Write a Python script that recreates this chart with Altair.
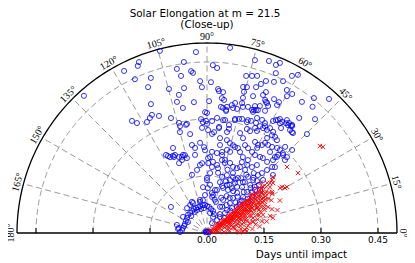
import altair as alt
import pandas as pd

TITLE_LINES = ["Solar Elongation at m = 21.5", "(Close-up)"]
RADIAL_LABEL = "Days until impact"
ANGLE_TICKS = list(range(0, 181, 15))
RADIAL_TICKS = [0.15, 0.30, 0.45]
RADIAL_LABEL_TICKS = [0.0, 0.15, 0.30, 0.45]
R_MAX = 0.5

# (solar elongation in degrees, days until impact)
BLUE_OUTER = [
    (104.5, 0.495), (93.5, 0.477), (82.9, 0.491), (111.7, 0.484), (112.5, 0.476),
    (117.1, 0.479), (115.1, 0.447), (109.9, 0.434), (97.7, 0.454), (100.4, 0.439),
    (95.6, 0.428), (95.0, 0.423), (88.0, 0.442), (86.5, 0.435), (99.4, 0.419),
    (92.6, 0.400), (88.5, 0.397), (92.0, 0.384), (112.0, 0.414), (104.8, 0.392),
    (99.0, 0.386), (101.5, 0.371), (113.5, 0.370), (131.9, 0.485), (102.9, 0.354),
    (95.7, 0.346), (89.1, 0.347), (85.6, 0.380), (85.2, 0.375), (83.5, 0.373),
    (83.7, 0.357), (82.7, 0.353), (81.0, 0.336), (83.7, 0.334), (81.1, 0.325),
    (79.0, 0.343), (77.8, 0.350), (76.4, 0.336), (90.0, 0.316), (93.0, 0.300),
    (92.1, 0.292), (90.0, 0.287), (87.4, 0.295), (123.8, 0.355), (122.5, 0.343),
    (115.0, 0.343), (116.4, 0.338), (112.3, 0.333), (107.4, 0.317), (104.2, 0.290),
    (100.4, 0.292), (76.0, 0.426), (74.0, 0.430), (72.3, 0.434), (74.7, 0.398),
    (75.3, 0.384), (74.9, 0.354), (69.1, 0.347), (69.3, 0.357), (72.0, 0.349),
    (75.1, 0.368), (68.8, 0.429), (66.1, 0.435), (63.4, 0.447), (70.2, 0.481),
    (66.8, 0.487), (67.3, 0.402), (67.9, 0.392), (65.2, 0.377), (64.3, 0.371),
    (63.4, 0.394), (61.2, 0.393), (57.4, 0.356), (55.9, 0.353), (54.7, 0.364),
    (53.3, 0.361), (51.9, 0.358), (59.5, 0.342), (58.6, 0.348), (61.5, 0.320),
    (59.8, 0.314), (58.5, 0.429), (54.1, 0.426), (46.5, 0.413), (61.6, 0.470),
    (60.1, 0.480), (67.7, 0.478), (66.7, 0.458), (74.5, 0.472), (60.8, 0.431),
    (59.7, 0.417), (61.3, 0.384), (51.6, 0.453), (47.7, 0.477), (50.1, 0.433),
    (51.3, 0.388),
]
BLUE_UPPER = [
    (92.7, 0.277), (83.5, 0.281), (78.5, 0.290), (76.2, 0.309), (74.3, 0.312),
    (72.9, 0.314), (70.2, 0.310), (66.0, 0.317), (63.6, 0.314), (51.5, 0.360),
    (54.3, 0.356), (54.8, 0.338), (68.3, 0.348), (69.9, 0.345), (67.4, 0.362),
    (71.4, 0.380), (70.1, 0.417), (71.4, 0.405), (76.1, 0.396), (66.4, 0.382),
    (65.8, 0.378), (118.4, 0.332), (104.3, 0.299), (100.9, 0.335), (90.9, 0.318),
    (82.7, 0.332), (81.2, 0.328), (78.2, 0.336), (74.1, 0.345), (69.2, 0.341),
    (67.5, 0.350), (101.0, 0.290), (90.5, 0.295), (85.0, 0.304), (81.9, 0.300),
    (80.9, 0.301), (76.1, 0.306), (70.1, 0.316), (68.6, 0.317), (66.5, 0.330),
    (64.6, 0.356), (57.9, 0.351), (56.4, 0.347), (53.1, 0.355), (49.9, 0.347),
    (51.8, 0.362), (64.0, 0.331), (62.2, 0.327), (61.9, 0.313), (59.0, 0.322),
    (56.8, 0.318), (56.4, 0.309), (54.7, 0.310), (53.0, 0.306), (44.7, 0.370),
    (44.3, 0.313), (51.1, 0.348), (49.3, 0.347), (47.8, 0.306), (105.0, 0.275),
    (99.7, 0.264),
]
BLUE_MIDDLE = [
    (111.8, 0.241), (116.9, 0.227), (113.5, 0.218), (110.2, 0.213), (89.4, 0.271),
    (87.1, 0.261), (86.0, 0.266), (83.5, 0.278), (78.8, 0.271), (78.1, 0.280),
    (82.2, 0.252), (71.7, 0.277), (69.2, 0.267), (69.0, 0.293), (67.1, 0.291),
    (65.4, 0.304), (63.9, 0.299), (99.7, 0.235), (92.0, 0.226), (98.7, 0.208),
    (108.2, 0.211), (86.5, 0.214), (82.9, 0.212), (79.5, 0.217), (76.5, 0.225),
    (74.1, 0.222), (73.5, 0.241), (72.0, 0.238), (70.0, 0.238), (67.8, 0.230),
    (66.6, 0.252), (64.2, 0.248), (60.9, 0.244), (62.2, 0.271), (59.9, 0.268),
    (59.5, 0.260), (58.4, 0.241), (55.1, 0.244), (64.7, 0.221), (60.7, 0.220),
    (89.2, 0.197), (85.2, 0.188), (81.6, 0.181), (78.4, 0.196), (75.6, 0.190),
    (71.8, 0.194), (68.5, 0.187), (59.5, 0.208), (55.7, 0.210), (53.7, 0.222),
    (65.2, 0.188), (63.4, 0.194), (57.7, 0.296), (57.2, 0.282), (58.0, 0.273),
    (55.3, 0.282), (52.9, 0.284), (52.1, 0.270), (50.5, 0.290), (48.7, 0.291),
    (48.2, 0.268), (47.7, 0.278), (45.7, 0.287), (43.1, 0.281), (53.3, 0.246),
    (49.8, 0.245), (45.4, 0.244), (44.1, 0.249), (46.5, 0.290), (43.5, 0.290),
    (47.4, 0.272), (47.9, 0.259), (46.4, 0.229), (47.5, 0.214), (43.4, 0.203),
    (41.3, 0.231), (94.4, 0.238), (91.4, 0.218), (98.0, 0.226), (81.6, 0.234),
    (77.9, 0.250), (75.7, 0.244), (63.8, 0.208), (58.9, 0.194), (117.7, 0.232),
    (113.8, 0.222), (111.8, 0.198), (105.8, 0.213), (105.0, 0.204), (108.9, 0.203),
    (107.1, 0.215), (112.3, 0.222), (116.0, 0.222), (87.7, 0.200), (79.1, 0.209),
    (76.1, 0.198), (48.7, 0.203), (50.0, 0.190), (52.0, 0.200), (56.0, 0.185),
]
BLUE_INNER = [
    (80.4, 0.173), (79.6, 0.161), (75.0, 0.153), (75.7, 0.138), (71.0, 0.161),
    (66.5, 0.152), (66.6, 0.172), (60.8, 0.151), (60.6, 0.166), (52.7, 0.152),
    (53.3, 0.167), (53.8, 0.183), (48.1, 0.170), (49.0, 0.185), (41.9, 0.170),
    (42.7, 0.186), (45.7, 0.151), (45.0, 0.134), (43.2, 0.119), (53.1, 0.132),
    (53.4, 0.115), (52.5, 0.099), (64.0, 0.126), (70.4, 0.126), (76.9, 0.116),
    (81.0, 0.101), (86.4, 0.127), (90.0, 0.139), (95.0, 0.121), (93.0, 0.100),
    (102.0, 0.089), (64.1, 0.097), (63.4, 0.077), (45.0, 0.093), (40.9, 0.104),
    (37.1, 0.135), (38.7, 0.152), (37.2, 0.165), (39.0, 0.180), (52.0, 0.043),
    (51.0, 0.054), (48.0, 0.071), (69.0, 0.045), (81.0, 0.053), (49.0, 0.080),
    (63.0, 0.029), (82.0, 0.096), (83.0, 0.106), (89.0, 0.118), (79.5, 0.115),
    (61.0, 0.135), (67.4, 0.137), (56.9, 0.145), (54.8, 0.164), (65.1, 0.162),
    (87.0, 0.158), (90.0, 0.145), (85.7, 0.174), (89.0, 0.184), (95.9, 0.180),
    (104.5, 0.158), (99.0, 0.168), (94.0, 0.184), (42.0, 0.060), (44.0, 0.085),
    (41.0, 0.115), (43.0, 0.125), (40.0, 0.140), (42.0, 0.160), (44.0, 0.175),
    (46.0, 0.190), (47.0, 0.110), (50.0, 0.125), (48.0, 0.145), (46.0, 0.165),
    (55.0, 0.090), (57.0, 0.110), (58.0, 0.130), (56.0, 0.060), (60.0, 0.080),
    (62.0, 0.110), (58.0, 0.170), (62.0, 0.160), (65.0, 0.140), (70.0, 0.145),
    (72.0, 0.175), (68.0, 0.100), (74.0, 0.085), (77.0, 0.090), (72.0, 0.130),
    (60.0, 0.004), (120.0, 0.005), (30.0, 0.006), (150.0, 0.004), (90.0, 0.003),
    (10.0, 0.005),
]
BLUE_ARM = [
    (178.0, 0.071), (173.0, 0.066), (172.0, 0.077), (165.0, 0.082), (168.0, 0.065),
    (158.0, 0.063), (150.0, 0.064), (143.0, 0.066), (136.5, 0.069), (130.0, 0.069),
    (124.0, 0.070), (118.4, 0.072), (113.7, 0.072), (109.0, 0.072), (104.5, 0.073),
    (98.0, 0.074), (94.0, 0.074), (90.0, 0.071), (85.6, 0.069), (80.5, 0.064),
    (74.7, 0.060), (70.0, 0.053), (144.2, 0.117), (115.8, 0.091), (102.7, 0.084),
    (150.0, 0.058), (163.0, 0.063), (133.0, 0.061), (120.0, 0.064), (113.0, 0.066),
    (104.0, 0.065), (97.0, 0.066), (146.0, 0.076), (121.0, 0.086), (115.0, 0.087),
    (128.7, 0.084), (97.0, 0.087), (170.0, 0.075),
]
RED_CORE = [
    (30, 0.012), (20, 0.015), (38, 0.018), (10, 0.020), (25, 0.022), (35, 0.025),
    (15, 0.028), (5, 0.030), (30, 0.032), (40, 0.035), (22, 0.036), (12, 0.040),
    (33, 0.040), (28, 0.045), (3, 0.045), (18, 0.048), (37, 0.050), (25, 0.052),
    (31, 0.055), (8, 0.055), (14, 0.060), (35, 0.060), (22, 0.062), (28, 0.065),
    (38, 0.068), (18, 0.070), (32, 0.070), (11, 0.072), (26, 0.075), (36, 0.076),
    (4, 0.078), (21, 0.080), (30, 0.080), (15, 0.080), (34, 0.082), (38, 0.085),
    (24, 0.085), (28, 0.088), (19, 0.090), (12, 0.090), (32, 0.092), (36, 0.095),
    (26, 0.095), (2, 0.093), (22, 0.098), (30, 0.100), (39, 0.100), (16, 0.100),
    (33, 0.105), (27, 0.105), (8, 0.105), (35, 0.108), (20, 0.110), (24, 0.112),
    (31, 0.113), (38, 0.115), (13, 0.115), (28, 0.118), (34, 0.120), (22, 0.120),
    (5, 0.120), (30, 0.122), (37, 0.125), (26, 0.125), (18, 0.127), (33, 0.130),
    (40, 0.130), (23, 0.132), (10, 0.130), (29, 0.135), (36, 0.137), (15, 0.138),
    (20, 0.140), (32, 0.140), (39, 0.142), (26, 0.145), (34, 0.148), (12, 0.148),
    (24, 0.150), (37, 0.152), (30, 0.155), (18, 0.155), (41, 0.157), (28, 0.160),
    (35, 0.163), (22, 0.163), (39, 0.167), (32, 0.170), (26, 0.170), (15, 0.172),
    (42, 0.175), (30, 0.178), (37, 0.180), (20, 0.182), (34, 0.186), (40, 0.190),
    (27, 0.190), (43, 0.195), (31, 0.200), (36, 0.205), (24, 0.210),
]
RED_FILL = [
    (27, 0.030), (33, 0.058), (24, 0.068), (29, 0.072), (34, 0.088), (37, 0.097),
    (21, 0.104), (29, 0.110), (36, 0.118), (32, 0.127), (27, 0.130), (38, 0.135),
    (35, 0.143), (30, 0.147), (22, 0.152), (33, 0.158), (38, 0.160), (26, 0.158),
    (31, 0.165), (36, 0.172), (29, 0.185), (17, 0.110), (14, 0.095), (9, 0.075),
    (6, 0.060), (3, 0.105), (1, 0.085), (7, 0.140), (11, 0.160), (18, 0.195),
    (13, 0.178), (23, 0.175), (39, 0.148), (40, 0.120), (41, 0.105), (39, 0.072),
    (36, 0.045), (32, 0.038), (26, 0.042), (19, 0.055), (16, 0.025), (45, 0.005),
]
RED_DENSE = [
    (34, 0.035), (29, 0.040), (37, 0.042), (31, 0.048), (35, 0.052), (27, 0.058),
    (38, 0.058), (30, 0.062), (34, 0.066), (26, 0.070), (36, 0.070), (31, 0.075),
    (39, 0.078), (28, 0.080), (33, 0.078), (35, 0.086), (30, 0.090), (38, 0.090),
    (25, 0.092), (32, 0.097), (34, 0.100), (28, 0.100), (37, 0.104), (31, 0.106),
    (25, 0.108), (36, 0.112), (33, 0.115), (39, 0.118), (27, 0.120), (32, 0.120),
    (35, 0.125), (29, 0.128), (38, 0.128), (34, 0.133), (31, 0.136), (26, 0.138),
    (37, 0.140), (33, 0.145), (28, 0.150), (40, 0.152), (35, 0.155), (31, 0.158),
    (38, 0.165), (34, 0.168), (29, 0.172), (36, 0.177), (32, 0.182), (39, 0.184),
    (35, 0.190), (33, 0.195), (38, 0.198), (21, 0.125), (19, 0.145), (24, 0.165),
    (17, 0.085), (23, 0.095), (20, 0.065), (14, 0.125), (10, 0.110), (7, 0.090),
]
RED_OUTLIERS = [
    (37.6, 0.375), (36.6, 0.380), (33.4, 0.287), (29.9, 0.243), (31.5, 0.232),
    (31.6, 0.226), (40.3, 0.228), (39.2, 0.221), (32.2, 0.202), (26.6, 0.147),
    (4.5, 0.100), (13.4, 0.124), (13.0, 0.070), (39.5, 0.273), (39.4, 0.191),
    (39.8, 0.206), (38.4, 0.212), (37.1, 0.218), (36.0, 0.179), (32.0, 0.174),
    (29.4, 0.166), (39.0, 0.180), (30.0, 0.237),
]

blue = pd.DataFrame(BLUE_OUTER + BLUE_UPPER + BLUE_MIDDLE + BLUE_INNER + BLUE_ARM,
                    columns=["angle", "days"])
red = pd.DataFrame(RED_CORE + RED_FILL + RED_DENSE + RED_OUTLIERS,
                   columns=["angle", "days"])

# ---- layout (pixels) ----
W, H = 399, 255
CX, CY = 199.0, 225.0
PX_PER_DAY = 380.0
xs = alt.Scale(domain=[-CX / PX_PER_DAY, (W - CX) / PX_PER_DAY], nice=False, zero=False)
ys = alt.Scale(domain=[-(H - CY) / PX_PER_DAY, CY / PX_PER_DAY], nice=False, zero=False)


def xenc(f):
    return alt.X(f"{f}:Q", scale=xs, axis=None)


def yenc(f):
    return alt.Y(f"{f}:Q", scale=ys, axis=None)


def px(rfield, afield):
    return f"datum.{rfield} * cos(datum.{afield} * PI / 180)"


def py(rfield, afield):
    return f"datum.{rfield} * sin(datum.{afield} * PI / 180)"


GRID = "#808080"
DASH = [6, 3.5]
TICK_LEN = 5 / PX_PER_DAY
LABEL_R = 196 / PX_PER_DAY

arc_df = pd.DataFrame([{"R": R, "a": a} for R in RADIAL_TICKS for a in range(0, 181)])
circles = alt.Chart(arc_df).transform_calculate(
    x=px("R", "a"), y=py("R", "a")
).mark_line(color=GRID, strokeWidth=0.8, strokeDash=DASH).encode(
    x=xenc("x"), y=yenc("y"), detail="R:N", order="a:Q"
)

outer_df = pd.DataFrame({"R": R_MAX, "a": list(range(0, 181))})
outer = alt.Chart(outer_df).transform_calculate(
    x=px("R", "a"), y=py("R", "a")
).mark_line(color="black", strokeWidth=1.3).encode(
    x=xenc("x"), y=yenc("y"), order="a:Q"
)

spoke_df = pd.DataFrame({"a": ANGLE_TICKS[1:-1], "R": R_MAX})
spokes = alt.Chart(spoke_df).transform_calculate(
    x0="0", y0="0", x1=px("R", "a"), y1=py("R", "a")
).mark_rule(color=GRID, strokeWidth=0.8, strokeDash=DASH).encode(
    x=xenc("x0"), y=yenc("y0"), x2=alt.X2("x1"), y2=alt.Y2("y1")
)

base_df = pd.DataFrame({"x0": [-R_MAX], "x1": [R_MAX]})
baseline = alt.Chart(base_df).transform_calculate(y0="0").mark_rule(
    color="black", strokeWidth=1.5
).encode(x=xenc("x0"), x2=alt.X2("x1"), y=yenc("y0"))

tick_df = pd.DataFrame({"t": [-t for t in RADIAL_TICKS] + RADIAL_TICKS})
ticks = alt.Chart(tick_df).transform_calculate(y0="0", y1=str(TICK_LEN)).mark_rule(
    color="black", strokeWidth=1
).encode(x=xenc("t"), y=yenc("y0"), y2=alt.Y2("y1"))

tlab_df = pd.DataFrame({"t": RADIAL_LABEL_TICKS})
tick_labels = alt.Chart(tlab_df).transform_calculate(y0="0").mark_text(
    font="DejaVu Sans", fontSize=9, align="center", baseline="alphabetic", dy=10, color="black"
).encode(x=xenc("t"), y=yenc("y0"), text=alt.Text("t:Q", format=".2f"))

alab_df = pd.DataFrame({"a": ANGLE_TICKS, "label": [f"{a}°" for a in ANGLE_TICKS], "R": LABEL_R})
angle_labels = alt.Chart(alab_df).transform_calculate(
    x=px("R", "a"), y=py("R", "a"), rot="(450 - datum.a) % 360"
).mark_text(font="Liberation Serif", fontSize=10, align="center", baseline="middle",
            color="black").encode(
    x=xenc("x"), y=yenc("y"), text="label:N", angle=alt.Angle("rot:Q", scale=None)
)

blue_pts = alt.Chart(blue).transform_calculate(
    x=px("days", "angle"), y=py("days", "angle")
).mark_point(shape="circle", filled=False, size=26, strokeWidth=0.8,
             color="#0000ff", opacity=1).encode(x=xenc("x"), y=yenc("y"))

red_pts = alt.Chart(red).transform_calculate(
    x=px("days", "angle"), y=py("days", "angle")
).mark_point(shape="M-1,-1L1,1M-1,1L1,-1", filled=False, size=20, strokeWidth=0.9,
             color="#ff0000", opacity=1).encode(x=xenc("x"), y=yenc("y"))

title1 = alt.Chart(pd.DataFrame({"t": [TITLE_LINES[0]]})).mark_text(
    font="DejaVu Sans", fontSize=10.4, align="center", baseline="alphabetic", color="black"
).encode(text="t:N", x=alt.value(197), y=alt.value(8.5))
title2 = alt.Chart(pd.DataFrame({"t": [TITLE_LINES[1]]})).mark_text(
    font="DejaVu Sans", fontSize=10.4, align="center", baseline="alphabetic", color="black"
).encode(text="t:N", x=alt.value(199), y=alt.value(19.5))
xlabel = alt.Chart(pd.DataFrame({"t": [RADIAL_LABEL]})).mark_text(
    font="DejaVu Sans", fontSize=10.4, align="center", baseline="alphabetic", color="black"
).encode(text="t:N", x=alt.value(293.5), y=alt.value(250))

chart = alt.layer(
    circles, spokes, outer, baseline, ticks, blue_pts, red_pts,
    tick_labels, angle_labels, title1, title2, xlabel
).properties(
    width=W, height=H, padding=0, autosize=alt.AutoSizeParams(type="none")
).configure_view(stroke=None)

chart.save("out.html", embed_options={"renderer": "svg", "actions": False})
